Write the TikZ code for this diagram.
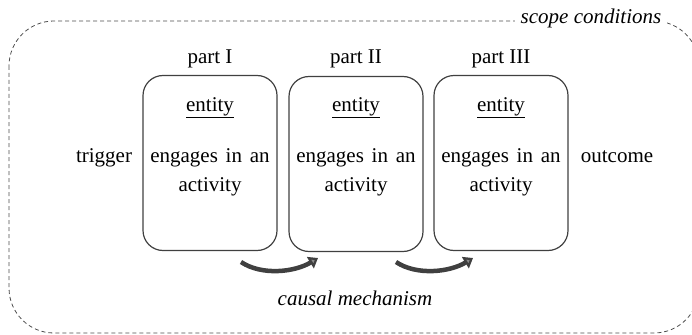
\documentclass[tikz,border=0pt]{standalone}
\usepackage{fontspec}
\setmainfont{Liberation Serif}
\usetikzlibrary{arrows.meta}
\newcommand{\widesp}{\hspace{7.8pt}}
\begin{document}
\begin{tikzpicture}[x=1pt,y=-1pt,
  txt/.style={font=\fontsize{21}{29}\selectfont, inner sep=0pt},
  itxt/.style={font=\fontsize{21}{29}\selectfont\itshape, inner sep=0pt},
  partbox/.style={draw=black!75, line width=1.2pt, rounded corners=20pt, minimum width=134pt, minimum height=175pt, inner sep=0pt},
  scopeline/.style={draw=black!70, line width=0.8pt, dash pattern=on 4pt off 3pt},
  flow/.style={draw=black!75, line width=4.5pt, -{Triangle[length=9pt,width=13pt,fill=black!45]}}
]
\useasboundingbox (0,0) rectangle (692,334);
\begin{scope}
\clip (0,0) rectangle (692,334);
\draw[scopeline, rounded corners=45pt] (9,21) rectangle (699,333);
\end{scope}
\node[itxt, fill=white, inner xsep=6pt, inner ysep=4pt] (scope) at (591,18) {scope conditions};

% the three parts of the mechanism
\node[partbox] (p1) at (210,163) {};
\node[partbox] (p2) at (356,164) {};
\node[partbox] (p3) at (501,163) {};

\foreach \b/\x/\lbl in {p1/210/I, p2/356/II, p3/501/III} {
  \node[txt, anchor=base] (t\b) at (\x,64) {part \lbl};
  \node[txt, anchor=base] (e\b) at (\x,111) {\underline{entity}};
  \node[txt, anchor=base] (a\b) at (\x,162) {engages\widesp in\widesp an};
  \node[txt, anchor=base] (b\b) at (\x,191) {activity};
}

\node[txt, anchor=base] (trigger) at (104,162) {trigger};
\node[txt, anchor=base] (outcome) at (617,162) {outcome};

% transmission between the parts
\coordinate (s1) at (241,262);
\coordinate (f1) at (318,258);
\coordinate (s2) at (396,262);
\coordinate (f2) at (473,258);
\draw[flow] (s1) .. controls (262,276) and (295,272) .. (f1);
\draw[flow] (s2) .. controls (417,276) and (450,272) .. (f2);

\node[itxt, anchor=base] (mech) at (355,305) {causal mechanism};
\end{tikzpicture}
\end{document}
